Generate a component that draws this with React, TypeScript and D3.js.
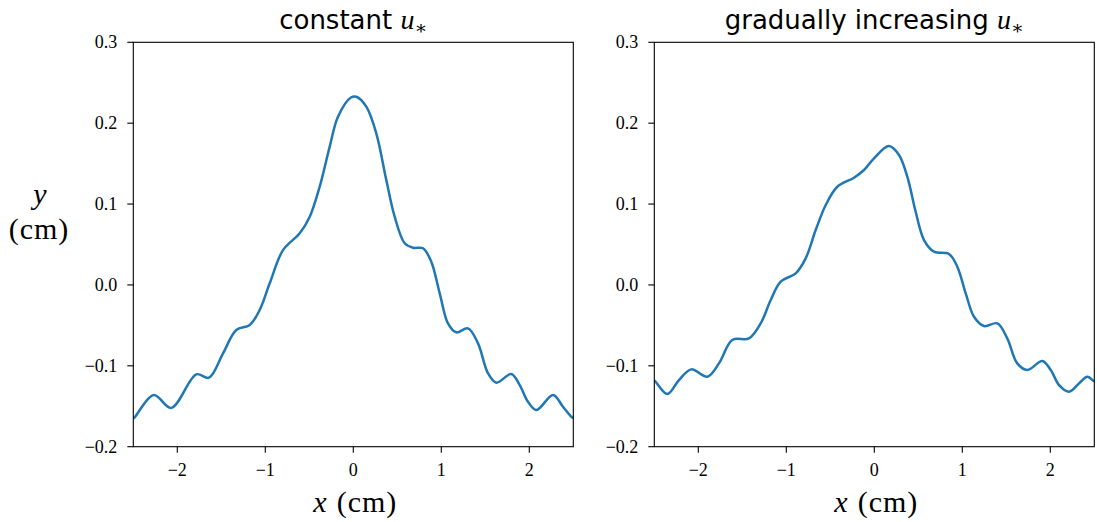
import React from "react";
import * as d3 from "d3";

const xTicks = [-2, -1, 0, 1, 2];
const yTicks = [-0.2, -0.1, 0.0, 0.1, 0.2, 0.3];

const constX = [-2.5, -2.484, -2.268, -2.068, -1.784, -1.64, -1.48, -1.33, -1.177, -1.064, -0.95, -0.799, -0.609, -0.495, -0.382, -0.268, -0.174, -0.023, 0.034, 0.148, 0.261, 0.375, 0.47, 0.584, 0.678, 0.792, 0.886, 0.982, 1.076, 1.17, 1.303, 1.417, 1.531, 1.625, 1.795, 1.891, 1.985, 2.08, 2.27, 2.383, 2.477, 2.5];
const constY = [-0.165, -0.1637, -0.136, -0.152, -0.1105, -0.1147, -0.0846, -0.0557, -0.0496, -0.031, 0.002, 0.043, 0.0638, 0.0844, 0.1214, 0.171, 0.208, 0.232, 0.2327, 0.2204, 0.1875, 0.1297, 0.0844, 0.0515, 0.046, 0.0453, 0.0287, -0.0104, -0.0475, -0.0586, -0.0537, -0.0722, -0.1093, -0.1209, -0.1102, -0.1238, -0.1444, -0.1547, -0.1361, -0.1506, -0.163, -0.1645];

const incX = [-2.5, -2.484, -2.352, -2.219, -2.08, -1.898, -1.765, -1.614, -1.424, -1.291, -1.177, -1.064, -0.893, -0.78, -0.666, -0.552, -0.42, -0.231, -0.117, -0.003, 0.167, 0.281, 0.375, 0.47, 0.565, 0.678, 0.849, 0.943, 1.039, 1.133, 1.247, 1.398, 1.511, 1.625, 1.739, 1.909, 2.005, 2.1, 2.213, 2.327, 2.42, 2.489, 2.5];
const incY = [-0.118, -0.1197, -0.1349, -0.1176, -0.1044, -0.1135, -0.097, -0.0681, -0.066, -0.0475, -0.0187, 0.004, 0.0144, 0.0329, 0.0679, 0.0988, 0.1214, 0.1326, 0.1421, 0.1566, 0.1718, 0.1607, 0.1338, 0.0905, 0.0555, 0.0411, 0.0382, 0.0225, -0.0104, -0.0393, -0.0508, -0.0475, -0.066, -0.097, -0.1052, -0.0941, -0.1052, -0.1238, -0.132, -0.1217, -0.1135, -0.1185, -0.1195];

const titles = ["constant", "gradually increasing"];

const W = 1097;
const H = 522;
const top = 42.3;
const bottom = 446.7;
const panels = [
  { left: 133.3, right: 573.3, xs: constX, ys: constY, title: titles[0], ylabel: true },
  { left: 654.3, right: 1094.3, xs: incX, ys: incY, title: titles[1], ylabel: false },
];

const serif = "'Liberation Serif', 'DejaVu Serif', serif";
const sans = "'DejaVu Sans', sans-serif";
const fmtY = (v: number) => {
  const s = Math.abs(v).toFixed(1);
  return v < -1e-9 ? "\u2212" + s : s;
};
const fmtX = (v: number) => (v < 0 ? "\u2212" + Math.abs(v) : String(v));

function Panel({ p, idx }: { p: any; idx: number }) {
  const x = d3.scaleLinear().domain([-2.5, 2.5]).range([p.left, p.right]);
  const y = d3.scaleLinear().domain([-0.2, 0.3]).range([bottom, top]);
  const pts: [number, number][] = p.xs.map((v: number, i: number) => [v, p.ys[i]]);
  const line = d3
    .line<[number, number]>()
    .x((d) => x(d[0]))
    .y((d) => y(d[1]))
    .curve(d3.curveCatmullRom.alpha(0.5));
  const cx = (p.left + p.right) / 2;
  const clipId = `clip${idx}`;
  return (
    <g>
      <defs>
        <clipPath id={clipId}>
          <rect x={p.left} y={top} width={p.right - p.left} height={bottom - top} />
        </clipPath>
      </defs>
      <path d={line(pts) || ""} fill="none" stroke="#1f77b4" strokeWidth={2.5} clipPath={`url(#${clipId})`} strokeLinejoin="round" />
      <rect x={p.left} y={top} width={p.right - p.left} height={bottom - top} fill="none" stroke="#000" strokeWidth={1.1} />
      {xTicks.map((t) => (
        <g key={"x" + t}>
          <line x1={x(t)} x2={x(t)} y1={bottom} y2={bottom + 6} stroke="#000" strokeWidth={1.1} />
          <text x={x(t)} y={bottom + 29} textAnchor="middle" fontFamily={serif} fontSize={18}>
            {fmtX(t)}
          </text>
        </g>
      ))}
      {yTicks.map((t) => (
        <g key={"y" + t}>
          <line x1={p.left - 6} x2={p.left} y1={y(t)} y2={y(t)} stroke="#000" strokeWidth={1.1} />
          <text x={p.left - 16} y={y(t) + 6} textAnchor="end" fontFamily={serif} fontSize={18}>
            {fmtY(t)}
          </text>
        </g>
      ))}
      <text x={cx} y={29} textAnchor="middle" fontFamily={sans} fontSize={26}>
        {p.title}{" "}
        <tspan fontFamily={serif} fontStyle="italic" fontSize={28}>u</tspan>
        <tspan fontFamily={serif} fontSize={19} dy={5}>{"\u2217"}</tspan>
      </text>
      <text x={cx + 2} y={512} textAnchor="middle" fontFamily={serif} fontSize={30}>
        <tspan fontStyle="italic">x</tspan>
        <tspan dx={10} letterSpacing={1}>(cm)</tspan>
      </text>
      {p.ylabel && (
        <g>
          <text x={40} y={204} textAnchor="middle" fontFamily={serif} fontSize={30} fontStyle="italic">y</text>
          <text x={39} y={239} textAnchor="middle" fontFamily={serif} fontSize={30} letterSpacing={1}>(cm)</text>
        </g>
      )}
    </g>
  );
}

export default function App() {
  return (
    <svg width={W} height={H} style={{ position: "absolute", left: 0, top: 0, background: "#fff" }}>
      <rect x={0} y={0} width={W} height={H} fill="#fff" />
      {panels.map((p, i) => (
        <Panel key={i} p={p} idx={i} />
      ))}
    </svg>
  );
}
